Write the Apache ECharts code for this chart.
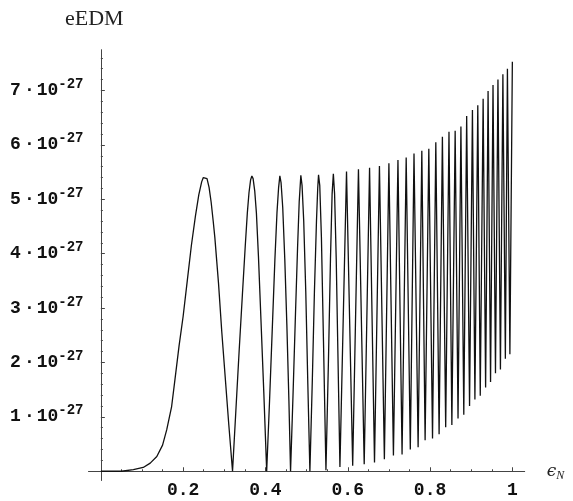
<!DOCTYPE html>
<html><head><meta charset="utf-8">
<script src="https://cdn.jsdelivr.net/npm/echarts@6/dist/echarts.min.js"></script>
<style>html,body{margin:0;padding:0;background:#fff}#c{width:573px;height:501px}</style>
</head><body><div id="c"></div>
<script>
// epsilon_N values
const epsN = [
 0, 0.05, 0.079, 0.103, 0.12, 0.136, 0.15, 0.16, 0.172, 0.18, 0.19, 0.20, 0.21, 0.22, 0.23, 0.238, 0.245, 0.249, 0.253, 0.258, 0.263, 0.268, 0.273, 0.277, 0.286, 0.294, 0.303, 0.311, 0.320,
 0.328, 0.336, 0.344, 0.351, 0.356, 0.360, 0.364, 0.367, 0.370, 0.374, 0.378, 0.383, 0.389, 0.396, 0.403,
 0.410, 0.417, 0.423, 0.428, 0.432, 0.435, 0.438, 0.442, 0.447, 0.452, 0.457, 0.461,
 0.467, 0.473, 0.478, 0.482, 0.486, 0.489, 0.493, 0.498, 0.503, 0.508,
 0.514, 0.519, 0.524, 0.527, 0.529, 0.532, 0.536, 0.541, 0.547,
 0.553, 0.558, 0.562, 0.565, 0.568, 0.572, 0.576, 0.581,
 0.597, 0.612, 0.626, 0.640, 0.653, 0.665, 0.677, 0.689, 0.700, 0.711, 0.722, 0.732, 0.742, 0.752,
 0.761, 0.771, 0.780, 0.788, 0.797, 0.806, 0.814, 0.822, 0.830, 0.838, 0.846, 0.853, 0.861, 0.868,
 0.875, 0.882, 0.889, 0.896, 0.903, 0.909, 0.916, 0.922, 0.929, 0.935, 0.941, 0.947, 0.953, 0.959,
 0.965, 0.971, 0.977, 0.983, 0.988, 0.994, 1.000
];
// eEDM values in units of 10^-27
const eEDM = [
 0, 0, 0.03, 0.07, 0.15, 0.27, 0.48, 0.76, 1.19, 1.68, 2.3, 2.85, 3.5, 4.15, 4.7, 5.08, 5.32, 5.4, 5.43, 5.38, 5.22, 4.95, 4.6, 4.3, 3.45, 2.55, 1.65, 0.85, 0,
 1.1, 2.2, 3.25, 4.15, 4.75, 5.12, 5.36, 5.43, 5.38, 5.15, 4.75, 3.95, 2.8, 1.45, 0,
 1.3, 2.7, 3.9, 4.75, 5.22, 5.43, 5.3, 4.85, 3.9, 2.7, 1.3, 0,
 1.4, 2.9, 4.1, 4.95, 5.44, 5.25, 4.6, 3.3, 1.6, 0,
 1.7, 3.3, 4.6, 5.2, 5.45, 5.25, 4.3, 2.4, 0.02,
 2.0, 3.9, 5.1, 5.47, 5.1, 3.9, 2.2, 0.08,
 5.51, 0.10, 5.55, 0.13, 5.58, 0.16, 5.61, 0.22, 5.66, 0.29, 5.72, 0.31, 5.77, 0.40,
 5.84, 0.44, 5.89, 0.57, 5.93, 0.60, 6.05, 0.68, 6.15, 0.81, 6.24, 0.85, 6.26, 0.97,
 6.34, 1.04, 6.53, 1.20, 6.64, 1.32, 6.73, 1.39, 6.85, 1.54, 6.99, 1.64, 7.10, 1.80,
 7.20, 1.87, 7.30, 2.07, 7.40, 2.15, 7.53
];
const xLabelTicks = [0.2, 0.4, 0.6, 0.8, 1];
const xMinorTicks = [0.05, 0.1, 0.15, 0.25, 0.3, 0.35, 0.45, 0.5, 0.55, 0.65, 0.7, 0.75, 0.85, 0.9, 0.95];
const yLabelTicks = [1, 2, 3, 4, 5, 6, 7];
const yMinorTicks = [0.2, 0.4, 0.6, 0.8, 1.2, 1.4, 1.6, 1.8, 2.2, 2.4, 2.6, 2.8, 3.2, 3.4, 3.6, 3.8,
  4.2, 4.4, 4.6, 4.8, 5.2, 5.4, 5.6, 5.8, 6.2, 6.4, 6.6, 6.8, 7.2, 7.4, 7.6];
const yExponent = '-27';

const data = epsN.map((x, i) => [x, eEDM[i]]);
const axisColor = '#444';
const mono = '"Liberation Mono", "Courier New", monospace';
const gridBox = {left: 88.5, right: 48.3, top: 49.7, bottom: 20.5, containLabel: false, outerBoundsMode: 'none'};
const xRange = {min: -0.03, max: 1.03};
const yRange = {min: -0.17, max: 7.75};

const chart = echarts.init(document.getElementById('c'), null, {renderer: 'canvas'});
chart.setOption({
  animation: false,
  backgroundColor: '#fff',
  title: {
    text: 'eEDM', left: 60, top: 3,
    textStyle: {fontFamily: '"Liberation Serif", "Times New Roman", serif', fontWeight: 'normal', fontSize: 22, color: '#222'}
  },
  grid: [Object.assign({}, gridBox), Object.assign({}, gridBox)],
  xAxis: [{
    type: 'value', gridIndex: 0, min: xRange.min, max: xRange.max,
    axisLine: {show: true, onZero: true, lineStyle: {color: axisColor, width: 1}},
    axisTick: {show: true, inside: true, length: 4, customValues: xLabelTicks, lineStyle: {color: axisColor}},
    axisLabel: {show: true, customValues: xLabelTicks, margin: 1,
      formatter: v => (Math.abs(v - 1) < 1e-9 ? '1' : v.toFixed(1)),
      fontFamily: mono, fontWeight: 'bold', fontSize: 18, color: '#111'},
    splitLine: {show: false},
    name: '{e|ϵ}{n|N}', nameLocation: 'end', nameGap: 22,
    nameTextStyle: {rich: {
      e: {fontFamily: '"DejaVu Serif", serif', fontStyle: 'italic', fontSize: 17, color: '#222'},
      n: {fontFamily: '"Liberation Serif", serif', fontStyle: 'italic', fontSize: 12, color: '#222', padding: [10, 0, 0, 0]}
    }}
  }, {
    type: 'value', gridIndex: 1, min: xRange.min, max: xRange.max,
    axisLine: {show: false, onZero: true},
    axisTick: {show: true, inside: true, length: 2, customValues: xMinorTicks, lineStyle: {color: axisColor}},
    axisLabel: {show: false}, splitLine: {show: false}
  }],
  yAxis: [{
    type: 'value', gridIndex: 0, min: yRange.min, max: yRange.max,
    axisLine: {show: true, onZero: true, lineStyle: {color: axisColor, width: 1}},
    axisTick: {show: true, inside: true, length: 4, customValues: yLabelTicks, lineStyle: {color: axisColor}},
    axisLabel: {show: true, customValues: yLabelTicks, margin: 5,
      formatter: v => '{n|' + Math.round(v) + '}{d|·}{n|10}{s|' + yExponent + '}',
      rich: {
        n: {fontFamily: mono, fontWeight: 'bold', fontSize: 18, lineHeight: 26, color: '#111'},
        d: {fontFamily: mono, fontWeight: 'bold', fontSize: 18, lineHeight: 26, color: '#111', padding: [0, 2, 0, 3]},
        s: {fontFamily: mono, fontWeight: 'bold', fontSize: 14, lineHeight: 14, verticalAlign: 'top', color: '#111'}
      }},
    splitLine: {show: false}
  }, {
    type: 'value', gridIndex: 1, min: yRange.min, max: yRange.max,
    axisLine: {show: false, onZero: true},
    axisTick: {show: true, inside: true, length: 2, customValues: yMinorTicks, lineStyle: {color: axisColor}},
    axisLabel: {show: false}, splitLine: {show: false}
  }],
  series: [{
    type: 'line', xAxisIndex: 0, yAxisIndex: 0, data: data,
    showSymbol: false, smooth: false,
    lineStyle: {color: '#111', width: 1.3},
    silent: true
  }]
});
</script>
</body></html>
